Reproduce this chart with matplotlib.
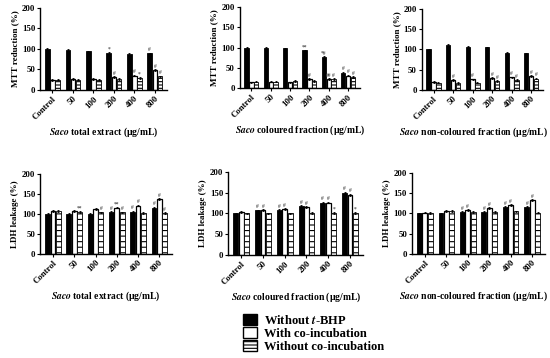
import numpy as np
import matplotlib.pyplot as plt
from matplotlib.patches import Patch

plt.rcParams['font.family'] = ['Liberation Serif', 'DejaVu Serif']
plt.rcParams['font.weight'] = 'bold'
plt.rcParams['mathtext.fontset'] = 'stix'
plt.rcParams['hatch.linewidth'] = 0.8

categories = ['Control', '50', '100', '200', '400', '800']

# MTT reduction (%)
mtt_total_black = [100, 98, 94, 90, 88, 89]
mtt_total_white = [24, 27, 26, 31, 35, 49]
mtt_total_hatch = [25, 25, 25, 26, 29, 33]
mtt_col_black = [100, 100, 98, 93, 77, 38]
mtt_col_white = [14, 16, 14, 22, 23, 31]
mtt_col_hatch = [16, 16, 17, 18, 23, 27]
mtt_non_black = [100, 111, 107, 105, 92, 90]
mtt_non_white = [20, 24, 26, 29, 31, 34]
mtt_non_hatch = [18, 17, 18, 22, 24, 28]

# LDH leakage (%)
ldh_total_black = [100, 101, 101, 105, 106, 116]
ldh_total_white = [107, 107, 112, 116, 121, 138]
ldh_total_hatch = [107, 105, 104, 104, 103, 103]
ldh_col_black = [100, 107, 108, 117, 126, 150]
ldh_col_white = [104, 108, 110, 115, 126, 145]
ldh_col_hatch = [100, 100, 100, 101, 101, 101]
ldh_non_black = [100, 100, 103, 104, 116, 116]
ldh_non_white = [102, 106, 108, 113, 120, 133]
ldh_non_hatch = [101, 106, 104, 103, 105, 102]

# significance marks: (black, white, hatched) per category
mtt_total_marks = [('', '', ''), ('', '', ''), ('', '', ''), ('*', '#', ''), ('', '#', '*'), ('#', '#', '#')]
mtt_col_marks = [('', '', ''), ('', '', ''), ('', '', ''), ('**', '#', ''), ('*#', '##', '#'), ('#', '#', '#')]
mtt_non_marks = [('', '', ''), ('', '#', ''), ('', '#', ''), ('', '#', '#'), ('', '#', '#'), ('', '#', '#')]
ldh_total_marks = [('', '', ''), ('', '', '**'), ('', '', '#'), ('#', '**', '#'), ('#', '#', ''), ('#', '#', '#')]
ldh_col_marks = [('', '', ''), ('#', '#', ''), ('#', '#', ''), ('#', '#', ''), ('#', '#', '*'), ('#', '#', '*')]
ldh_non_marks = [('', '', ''), ('', '', ''), ('#', '#', ''), ('#', '#', ''), ('#', '#', ''), ('#', '#', '')]

panels = [
    ([0.073, 0.749, 0.231, 0.229], mtt_total_black, mtt_total_white, mtt_total_hatch,
     mtt_total_marks, 'MTT reduction (%)', ' total extract (μg/mL)', '-----', 0.5),
    ([0.436, 0.754, 0.218, 0.226], mtt_col_black, mtt_col_white, mtt_col_hatch,
     mtt_col_marks, 'MTT reduction (%)', ' coloured fraction (μg/mL)', '-----', 0.5),
    ([0.767, 0.749, 0.220, 0.226], mtt_non_black, mtt_non_white, mtt_non_hatch,
     mtt_non_marks, 'MTT reduction (%)', ' non-coloured fraction (μg/mL)', '-----', 0.43),
    ([0.073, 0.291, 0.240, 0.223], ldh_total_black, ldh_total_white, ldh_total_hatch,
     ldh_total_marks, 'LDH leakage (%)', ' total extract (μg/mL)', '---', 0.5),
    ([0.415, 0.288, 0.245, 0.232], ldh_col_black, ldh_col_white, ldh_col_hatch,
     ldh_col_marks, 'LDH leakage (%)', ' coloured fraction (μg/mL)', '---', 0.5),
    ([0.749, 0.291, 0.242, 0.226], ldh_non_black, ldh_non_white, ldh_non_hatch,
     ldh_non_marks, 'LDH leakage (%)', ' non-coloured fraction (μg/mL)', '---', 0.46),
]

fig = plt.figure(figsize=(5.5, 3.58), dpi=100)

x = np.arange(len(categories))
w = 0.25

for rect, blk, wht, hat, marks, ylab, xlab, hatch, lx in panels:
    ax = fig.add_axes(rect)
    ekw = dict(elinewidth=0.6, capsize=1.0, capthick=0.6, ecolor='black')
    ax.bar(x - w, blk, w * 0.9, color='black', edgecolor='black', lw=0.6,
           yerr=2, error_kw=ekw)
    ax.bar(x, wht, w * 0.9, color='white', edgecolor='black', lw=0.9,
           yerr=2, error_kw=ekw)
    ax.bar(x + w, hat, w * 0.9, color='white', edgecolor='black', lw=0.6,
           hatch=hatch, yerr=2, error_kw=ekw)
    for i, m in enumerate(marks):
        for j, (vals, off) in enumerate(zip((blk, wht, hat), (-w, 0, w))):
            if m[j]:
                ax.text(x[i] + off, vals[i] + 3, m[j], ha='center', va='bottom',
                        fontsize=4, color='#555555')
    ax.set_ylim(0, 200)
    ax.set_yticks([0, 50, 100, 150, 200])
    ax.set_xlim(-0.6, 5.6)
    ax.set_xticks(x)
    ax.set_xticklabels(categories, rotation=45, ha='right', rotation_mode='anchor')
    ax.tick_params(labelsize=6.3, length=2, width=0.8, pad=1.5)
    for s in ('top', 'right'):
        ax.spines[s].set_visible(False)
    for s in ('left', 'bottom'):
        ax.spines[s].set_linewidth(1.0)
    ax.set_ylabel(ylab, fontsize=6.5, fontweight='bold', labelpad=2)
    ax.set_xlabel(r'$\bf{\it{Saco}}$' + xlab, fontsize=6.9, fontweight='bold', labelpad=3)
    ax.xaxis.label.set_x(lx)

handles = [
    Patch(facecolor='black', edgecolor='black', label='Without $\\it{t}$-BHP'),
    Patch(facecolor='white', edgecolor='black', lw=1.0, label='With co-incubation'),
    Patch(facecolor='white', edgecolor='black', hatch='-----', label='Without co-incubation'),
]
fig.legend(handles=handles, loc='upper left', bbox_to_anchor=(0.43, 0.14),
           frameon=False, fontsize=9, handlelength=1.1, handleheight=1.0,
           handletextpad=0.6, labelspacing=0.0, borderpad=0)

fig.savefig('out.png', dpi=100)
